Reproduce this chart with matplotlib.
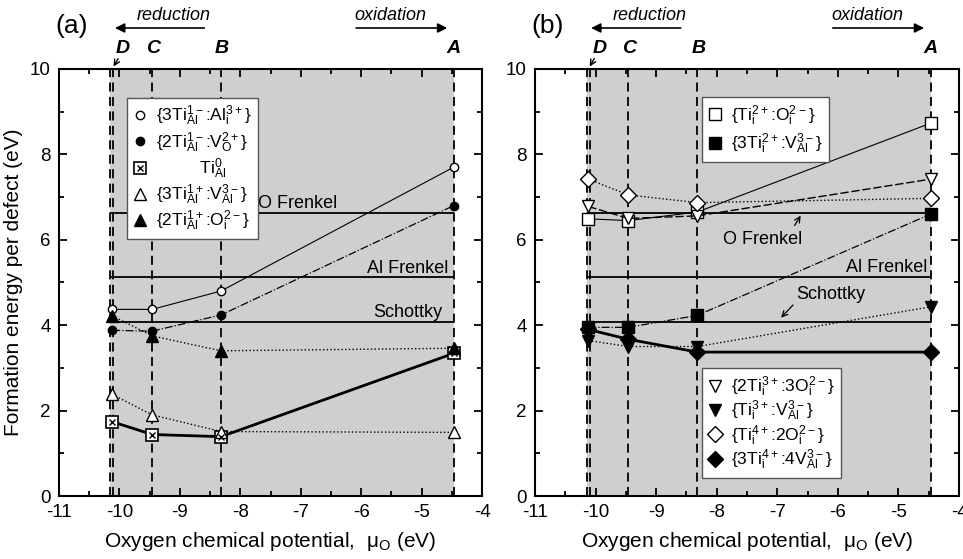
import matplotlib
matplotlib.use('Agg')
import matplotlib.pyplot as plt
from matplotlib.lines import Line2D
from matplotlib.ticker import MultipleLocator

plt.rcParams['font.family'] = ['Liberation Sans', 'DejaVu Sans']
plt.rcParams['mathtext.default'] = 'regular'
plt.rcParams['axes.unicode_minus'] = False

# oxygen chemical potential at the limits D, C, B, A (eV)
mu_points = [-10.12, -9.46, -8.32, -4.47]
mu_lines = [-10.15, -10.10, -9.46, -8.32, -4.47]
limit_names = ['D', 'C', 'B', 'A']
limit_label_x = [-9.94, -9.44, -8.30, -4.48]

# intrinsic defects (eV)
e_ofrenkel = 6.62
e_alfrenkel = 5.12
e_schottky = 4.08

# panel (a) : Ti on Al sites
a_3ti_ali = [4.37, 4.37, 4.80, 7.70]
a_2ti_vo = [3.88, 3.86, 4.24, 6.80]
a_ti0 = [1.74, 1.44, 1.39, 3.34]
a_3ti_val = [2.38, 1.90, 1.51, 1.49]
a_2ti_oi = [4.22, 3.75, 3.40, 3.46]

# panel (b) : interstitial Ti
b_ti2_oi = [6.49, 6.45, 6.65, 8.73]
b_3ti2_val = [3.95, 3.95, 4.23, 6.60]
b_2ti3_3oi = [6.78, 6.50, 6.56, 7.42]
b_ti3_val = [3.64, 3.50, 3.50, 4.43]
b_ti4_2oi = [7.42, 7.05, 6.87, 6.97]
b_3ti4_4val = [3.90, 3.67, 3.37, 3.37]

fig = plt.figure(figsize=(9.63, 5.59), dpi=100)
ax1 = fig.add_axes([0.0613, 0.1127, 0.4393, 0.7639])
ax2 = fig.add_axes([0.5556, 0.1127, 0.4403, 0.7639])


def setup(ax, tag):
    ax.set_xlim(-11, -4)
    ax.set_ylim(0, 10)
    ax.axvspan(mu_lines[0], mu_lines[-1], color='#cfcfcf', zorder=0, lw=0)
    for m in mu_lines:
        ax.axvline(m, color='k', ls=(0, (5, 3)), lw=1.3, zorder=1)
    ax.hlines([e_ofrenkel, e_alfrenkel, e_schottky], mu_lines[0], mu_lines[-1],
              colors='k', lw=1.3, zorder=2)
    ax.xaxis.set_major_locator(MultipleLocator(1))
    ax.xaxis.set_minor_locator(MultipleLocator(0.5))
    ax.yaxis.set_major_locator(MultipleLocator(2))
    ax.yaxis.set_minor_locator(MultipleLocator(1))
    ax.tick_params(which='both', direction='in', top=True, right=True, width=1.3)
    ax.tick_params(which='major', length=6, labelsize=13.5, pad=6)
    ax.tick_params(which='minor', length=3.5)
    for s in ax.spines.values():
        s.set_linewidth(1.5)
    ax.set_xlabel(r'Oxygen chemical potential,  $\mu_O$ (eV)', fontsize=15, labelpad=6)
    # letters above the limits
    for name, xl in zip(limit_names, limit_label_x):
        ax.text(xl, 10.47, name, ha='center', va='center', fontsize=14,
                fontweight='bold', style='italic', clip_on=False)
    ax.annotate('', xy=(-10.12, 10.0), xytext=(-10.0, 10.3),
                arrowprops=dict(arrowstyle='->', lw=1, color='k'), annotation_clip=False)
    ax.text(-10.79, 11.0, tag, ha='center', va='center', fontsize=19, clip_on=False)
    ax.text(-9.11, 11.26, 'reduction', ha='center', va='center', fontsize=13,
            style='italic', clip_on=False)
    ax.annotate('', xy=(-10.12, 10.96), xytext=(-8.55, 10.96),
                arrowprops=dict(arrowstyle='-|>', lw=1.2, color='k', mutation_scale=14),
                annotation_clip=False)
    ax.text(-5.52, 11.26, 'oxidation', ha='center', va='center', fontsize=13,
            style='italic', clip_on=False)
    ax.annotate('', xy=(-4.53, 10.96), xytext=(-6.13, 10.96),
                arrowprops=dict(arrowstyle='-|>', lw=1.2, color='k', mutation_scale=14),
                annotation_clip=False)


def add_legend(ax, handles, labels, loc, anchor, spacing):
    leg = ax.legend(handles, labels, loc=loc, bbox_to_anchor=anchor, borderaxespad=0,
                    fontsize=12.5, frameon=True, fancybox=False, framealpha=1,
                    edgecolor='#555555', handlelength=0.8, handletextpad=0.5,
                    labelspacing=spacing, borderpad=0.35)
    leg.get_frame().set_linewidth(1.0)
    leg.set_zorder(10)
    return leg


setup(ax1, '(a)')
setup(ax2, '(b)')

# --- panel (a)
ax = ax1
ax.plot(mu_points, a_3ti_ali, 'k-', lw=0.8, marker='o', ms=6, mfc='white', mec='k', zorder=5)
ax.plot(mu_points, a_2ti_vo, 'k-.', lw=0.9, marker='o', ms=6, mfc='k', mec='k', zorder=5)
ax.plot(mu_points, a_ti0, 'k-', lw=2, marker='s', ms=8, mfc='white', mec='k', mew=1.2, zorder=5)
ax.plot(mu_points, a_ti0, ls='none', marker='x', ms=5, mec='k', mew=1.0, zorder=6)
ax.plot(mu_points, a_3ti_val, 'k:', lw=1, marker='^', ms=8, mfc='white', mec='k', zorder=5)
ax.plot(mu_points, a_2ti_oi, 'k:', lw=1, marker='^', ms=8, mfc='k', mec='k', zorder=5)

ax.text(-7.71, 6.86, 'O Frenkel', ha='left', va='center', fontsize=13)
ax.text(-4.56, 5.32, 'Al Frenkel', ha='right', va='center', fontsize=13)
ax.text(-4.66, 4.29, 'Schottky', ha='right', va='center', fontsize=13)
ax.set_ylabel('Formation energy per defect (eV)', fontsize=15, labelpad=5)

h_a = [Line2D([], [], ls='none', marker='o', ms=6, mfc='white', mec='k'),
       Line2D([], [], ls='none', marker='o', ms=6, mfc='k', mec='k'),
       (Line2D([], [], ls='none', marker='s', ms=8, mfc='white', mec='k', mew=1.2),
        Line2D([], [], ls='none', marker='x', ms=5, mec='k', mew=1.0)),
       Line2D([], [], ls='none', marker='^', ms=8, mfc='white', mec='k'),
       Line2D([], [], ls='none', marker='^', ms=8, mfc='k', mec='k')]
l_a = [r'{3Ti$_{Al}^{1-}$:Al$_i^{3+}$}', r'{2Ti$_{Al}^{1-}$:V$_O^{2+}$}',
       r'         Ti$_{Al}^{0}$', r'{3Ti$_{Al}^{1+}$:V$_{Al}^{3-}$}',
       r'{2Ti$_{Al}^{1+}$:O$_i^{2-}$}']
add_legend(ax, h_a, l_a, 'upper left', (0.161, 0.932), 0.1)

# --- panel (b)
ax = ax2
ax.plot(mu_points, b_ti2_oi, 'k-', lw=0.8, marker='s', ms=8, mfc='white', mec='k', zorder=5)
ax.plot(mu_points, b_3ti2_val, 'k-.', lw=0.9, marker='s', ms=8, mfc='k', mec='k', zorder=5)
ax.plot(mu_points, b_2ti3_3oi, color='k', ls=(0, (6, 2)), lw=1, marker='v', ms=8,
        mfc='white', mec='k', zorder=5)
ax.plot(mu_points, b_ti3_val, 'k:', lw=1, marker='v', ms=8, mfc='k', mec='k', zorder=5)
ax.plot(mu_points, b_ti4_2oi, 'k:', lw=1, marker='D', ms=8, mfc='white', mec='k', zorder=5)
ax.plot(mu_points, b_3ti4_4val, 'k-', lw=2, marker='D', ms=8, mfc='k', mec='k', zorder=5)

ax.text(-7.90, 6.0, 'O Frenkel', ha='left', va='center', fontsize=13)
ax.annotate('', xy=(-6.59, e_ofrenkel), xytext=(-6.74, 6.28),
            arrowprops=dict(arrowstyle='->', lw=0.9, color='k'))
ax.text(-4.53, 5.34, 'Al Frenkel', ha='right', va='center', fontsize=13)
ax.text(-6.12, 4.73, 'Schottky', ha='center', va='center', fontsize=13)
ax.annotate('', xy=(-6.97, e_schottky + 0.05), xytext=(-6.71, 4.52),
            arrowprops=dict(arrowstyle='->', lw=0.9, color='k'))

h_b1 = [Line2D([], [], ls='none', marker='s', ms=8, mfc='white', mec='k'),
        Line2D([], [], ls='none', marker='s', ms=8, mfc='k', mec='k')]
l_b1 = [r'{Ti$_i^{2+}$:O$_i^{2-}$}', r'{3Ti$_i^{2+}$:V$_{Al}^{3-}$}']
leg1 = add_legend(ax, h_b1, l_b1, 'upper left', (0.394, 0.934), 0.25)
ax.add_artist(leg1)

h_b2 = [Line2D([], [], ls='none', marker='v', ms=8, mfc='white', mec='k'),
        Line2D([], [], ls='none', marker='v', ms=8, mfc='k', mec='k'),
        Line2D([], [], ls='none', marker='D', ms=8, mfc='white', mec='k'),
        Line2D([], [], ls='none', marker='D', ms=8, mfc='k', mec='k')]
l_b2 = [r'{2Ti$_i^{3+}$:3O$_i^{2-}$}', r'{Ti$_i^{3+}$:V$_{Al}^{3-}$}',
        r'{Ti$_i^{4+}$:2O$_i^{2-}$}', r'{3Ti$_i^{4+}$:4V$_{Al}^{3-}$}']
add_legend(ax, h_b2, l_b2, 'lower left', (0.394, 0.042), 0.0)

fig.savefig('out.png', dpi=100)
